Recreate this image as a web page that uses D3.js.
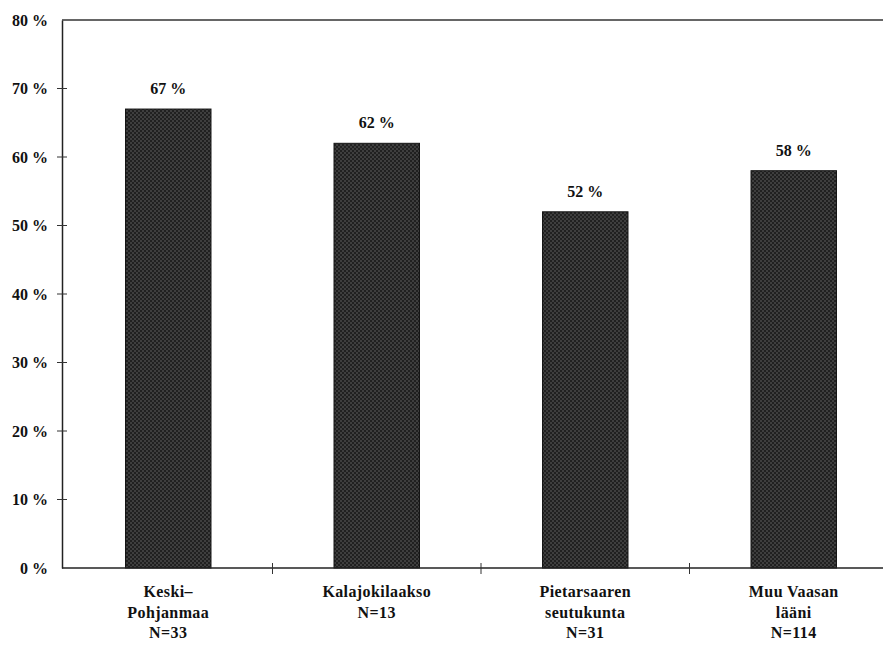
<!DOCTYPE html>
<html>
<head>
<meta charset="utf-8">
<script src="https://cdn.jsdelivr.net/npm/d3@7"></script>
<style>
  body { margin: 0; background: #fff; }
  text { font-family: "Liberation Serif", "DejaVu Serif", serif; font-weight: bold; fill: #111; }
</style>
</head>
<body>
<div id="chart"></div>
<script>
// alueet ja osuudet
var regions = [
    ["Keski–", "Pohjanmaa", "N=33"],
    ["Kalajokilaakso", "N=13"],
    ["Pietarsaaren", "seutukunta", "N=31"],
    ["Muu Vaasan", "lääni", "N=114"]
];
var shares = [67, 62, 52, 58];
var yTicks = [0, 10, 20, 30, 40, 50, 60, 70, 80];

var width = 883, height = 648;
var margin = { left: 62, top: 20, bottom: 80 };
var plotBottom = 568;

var svg = d3.select("#chart").append("svg")
    .attr("width", width).attr("height", height);

// tummaa ruudukkokuviota pylväisiin
var defs = svg.append("defs");
var pat = defs.append("pattern")
    .attr("id", "checker")
    .attr("width", 4).attr("height", 4)
    .attr("patternUnits", "userSpaceOnUse");
pat.append("rect").attr("width", 4).attr("height", 4).attr("fill", "#202020");
pat.append("rect").attr("width", 2).attr("height", 2).attr("fill", "#3e3e3e");
pat.append("rect").attr("x", 2).attr("y", 2).attr("width", 2).attr("height", 2).attr("fill", "#3e3e3e");

var yScale = d3.scaleLinear()
    .domain([0, 80])
    .range([plotBottom, margin.top]);

var xScale = d3.scaleBand()
    .domain(d3.range(regions.length))
    .range([margin.left + 2, margin.left + 2 + 208.5 * regions.length]);

var barW = xScale.bandwidth() * 0.41;

// pylväät
svg.selectAll(".bar")
    .data(shares)
    .enter()
    .append("rect")
    .attr("class", "bar")
    .attr("x", function (d, i) { return xScale(i) + xScale.bandwidth() / 2 - barW / 2; })
    .attr("y", function (d) { return yScale(d); })
    .attr("width", barW)
    .attr("height", function (d) { return plotBottom - yScale(d); })
    .attr("fill", "url(#checker)")
    .attr("stroke", "#151515")
    .attr("stroke-width", 1);

// arvot pylväiden yläpuolelle
svg.selectAll(".val")
    .data(shares)
    .enter()
    .append("text")
    .attr("class", "val")
    .attr("x", function (d, i) { return xScale(i) + xScale.bandwidth() / 2; })
    .attr("y", function (d) { return yScale(d) - 15; })
    .attr("text-anchor", "middle")
    .style("font-size", "16px")
    .text(function (d) { return d + " %"; });

// y-akseli
var yAxis = svg.append("g")
    .attr("transform", "translate(" + margin.left + ",0)")
    .call(d3.axisLeft(yScale)
        .tickValues(yTicks)
        .tickSize(0)
        .tickPadding(14)
        .tickFormat(function (d) { return d + " %"; }));
yAxis.select(".domain").attr("stroke", "#222").attr("stroke-width", 1.5);
yAxis.selectAll("text").style("font-size", "16px").style("font-family", "Liberation Serif").style("font-weight", "bold").attr("fill", "#111");
svg.selectAll(".ytick")
    .data(yTicks.slice(1, -1))
    .enter()
    .append("line")
    .attr("x1", margin.left - 5).attr("x2", margin.left + 5)
    .attr("y1", function (d) { return yScale(d); })
    .attr("y2", function (d) { return yScale(d); })
    .attr("stroke", "#333");

// ylä- ja alareuna
svg.append("line")
    .attr("x1", margin.left).attr("x2", width)
    .attr("y1", yScale(80)).attr("y2", yScale(80))
    .attr("stroke", "#333").attr("stroke-width", 1.5);
svg.append("line")
    .attr("x1", margin.left).attr("x2", width)
    .attr("y1", yScale(0)).attr("y2", yScale(0))
    .attr("stroke", "#222").attr("stroke-width", 1.5);

// x-akselin jakoviivat
svg.selectAll(".xtick")
    .data(d3.range(1, regions.length))
    .enter()
    .append("line")
    .attr("x1", function (d) { return xScale(d); })
    .attr("x2", function (d) { return xScale(d); })
    .attr("y1", plotBottom - 5).attr("y2", plotBottom + 6)
    .attr("stroke", "#333");

// luokkien nimet
svg.selectAll(".cat")
    .data(regions)
    .enter()
    .append("text")
    .attr("class", "cat")
    .attr("x", function (d, i) { return xScale(i) + xScale.bandwidth() / 2; })
    .attr("y", 597)
    .attr("text-anchor", "middle")
    .style("font-size", "16px")
    .style("letter-spacing", "0.4px")
    .each(function (d, i) {
        var t = d3.select(this);
        d.forEach(function (line, j) {
            t.append("tspan")
                .attr("x", xScale(i) + xScale.bandwidth() / 2)
                .attr("dy", j == 0 ? 0 : 20.5)
                .text(line);
        });
    });
</script>
</body>
</html>
